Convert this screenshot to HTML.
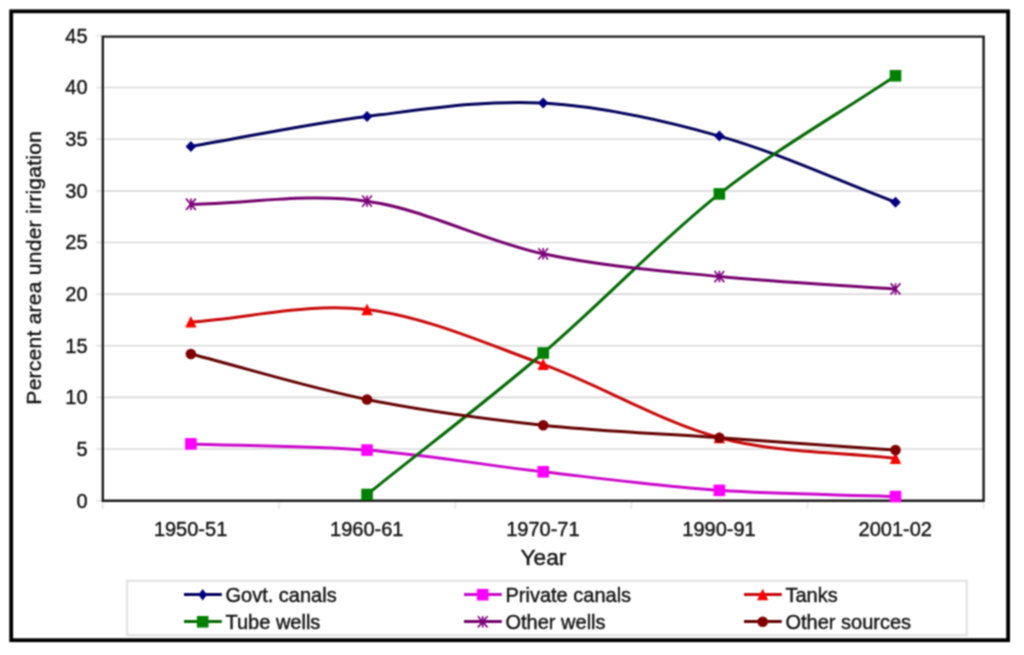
<!DOCTYPE html><html><head><meta charset="utf-8"><title>Sources of irrigation</title><style>html,body{margin:0;padding:0;background:#fff;overflow:hidden;}svg{display:block;}text{font-family:"Liberation Sans",sans-serif;fill:#141414;stroke:#141414;stroke-width:0.4px;}</style></head><body>
<svg width="1024" height="655" viewBox="0 0 1024 655">
<defs><filter id="soft" x="-2%" y="-2%" width="104%" height="104%" color-interpolation-filters="sRGB"><feConvolveMatrix order="3" kernelMatrix="1 2 1 2 4 2 1 2 1" divisor="16" edgeMode="duplicate" preserveAlpha="false"/></filter></defs>
<rect x="0" y="0" width="1024" height="655" fill="#fff"/>
<g filter="url(#soft)">
<rect x="11.2" y="11.3" width="996.9" height="628.9" fill="none" stroke="#000" stroke-width="3.8"/>
<line x1="102.80" y1="449.06" x2="983.60" y2="449.06" stroke="#d9d9d9" stroke-width="1.6"/>
<line x1="102.80" y1="397.41" x2="983.60" y2="397.41" stroke="#d9d9d9" stroke-width="1.6"/>
<line x1="102.80" y1="345.76" x2="983.60" y2="345.76" stroke="#d9d9d9" stroke-width="1.6"/>
<line x1="102.80" y1="294.12" x2="983.60" y2="294.12" stroke="#d9d9d9" stroke-width="1.6"/>
<line x1="102.80" y1="242.47" x2="983.60" y2="242.47" stroke="#d9d9d9" stroke-width="1.6"/>
<line x1="102.80" y1="190.83" x2="983.60" y2="190.83" stroke="#d9d9d9" stroke-width="1.6"/>
<line x1="102.80" y1="139.18" x2="983.60" y2="139.18" stroke="#d9d9d9" stroke-width="1.6"/>
<line x1="102.80" y1="87.54" x2="983.60" y2="87.54" stroke="#d9d9d9" stroke-width="1.6"/>
<line x1="96" y1="500.70" x2="102.80" y2="500.70" stroke="#e0e0e0" stroke-width="1.5"/>
<text x="87.6" y="507.60" font-size="20" text-anchor="end">0</text>
<line x1="96" y1="449.06" x2="102.80" y2="449.06" stroke="#e0e0e0" stroke-width="1.5"/>
<text x="87.6" y="455.95" font-size="20" text-anchor="end">5</text>
<line x1="96" y1="397.41" x2="102.80" y2="397.41" stroke="#e0e0e0" stroke-width="1.5"/>
<text x="87.6" y="404.31" font-size="20" text-anchor="end">10</text>
<line x1="96" y1="345.76" x2="102.80" y2="345.76" stroke="#e0e0e0" stroke-width="1.5"/>
<text x="87.6" y="352.66" font-size="20" text-anchor="end">15</text>
<line x1="96" y1="294.12" x2="102.80" y2="294.12" stroke="#e0e0e0" stroke-width="1.5"/>
<text x="87.6" y="301.02" font-size="20" text-anchor="end">20</text>
<line x1="96" y1="242.47" x2="102.80" y2="242.47" stroke="#e0e0e0" stroke-width="1.5"/>
<text x="87.6" y="249.37" font-size="20" text-anchor="end">25</text>
<line x1="96" y1="190.83" x2="102.80" y2="190.83" stroke="#e0e0e0" stroke-width="1.5"/>
<text x="87.6" y="197.73" font-size="20" text-anchor="end">30</text>
<line x1="96" y1="139.18" x2="102.80" y2="139.18" stroke="#e0e0e0" stroke-width="1.5"/>
<text x="87.6" y="146.08" font-size="20" text-anchor="end">35</text>
<line x1="96" y1="87.54" x2="102.80" y2="87.54" stroke="#e0e0e0" stroke-width="1.5"/>
<text x="87.6" y="94.44" font-size="20" text-anchor="end">40</text>
<line x1="96" y1="35.89" x2="102.80" y2="35.89" stroke="#e0e0e0" stroke-width="1.5"/>
<text x="87.6" y="42.79" font-size="20" text-anchor="end">45</text>
<line x1="102.80" y1="500.70" x2="102.80" y2="508.70" stroke="#e4e4e4" stroke-width="1.5"/>
<line x1="278.96" y1="500.70" x2="278.96" y2="508.70" stroke="#e4e4e4" stroke-width="1.5"/>
<line x1="455.12" y1="500.70" x2="455.12" y2="508.70" stroke="#e4e4e4" stroke-width="1.5"/>
<line x1="631.28" y1="500.70" x2="631.28" y2="508.70" stroke="#e4e4e4" stroke-width="1.5"/>
<line x1="807.44" y1="500.70" x2="807.44" y2="508.70" stroke="#e4e4e4" stroke-width="1.5"/>
<line x1="983.60" y1="500.70" x2="983.60" y2="508.70" stroke="#e4e4e4" stroke-width="1.5"/>
<text x="190.58" y="536" font-size="20" text-anchor="middle">1950-51</text>
<text x="366.74" y="536" font-size="20" text-anchor="middle">1960-61</text>
<text x="542.90" y="536" font-size="20" text-anchor="middle">1970-71</text>
<text x="719.06" y="536" font-size="20" text-anchor="middle">1990-91</text>
<text x="895.22" y="536" font-size="20" text-anchor="middle">2001-02</text>
<path d="M102.80,36.60 H983.60 V500.70 H102.80 Z" fill="none" stroke="#1c1c1c" stroke-width="2.4"/>
<text x="543.4" y="564.9" font-size="22.6" text-anchor="middle" textLength="45.8" lengthAdjust="spacingAndGlyphs">Year</text>
<text transform="translate(41.4,267.9) rotate(-90)" font-size="21" text-anchor="middle" textLength="273.5" lengthAdjust="spacing">Percent area under irrigation</text>
<path d="M190.88,146.42 C249.60,136.43 308.32,123.69 367.04,116.46 C425.76,109.23 484.48,99.76 543.20,103.03 C601.92,106.30 660.64,119.56 719.36,136.09 C778.08,152.61 836.80,180.16 895.52,202.19" fill="none" stroke="#05055c" stroke-width="3" stroke-linejoin="round" stroke-linecap="round"/>
<path d="M190.88,443.89 C249.60,445.96 308.32,445.44 367.04,450.09 C425.76,454.74 484.48,465.06 543.20,471.78 C601.92,478.49 660.64,486.24 719.36,490.37 C778.08,494.50 836.80,494.50 895.52,496.57" fill="none" stroke="#cc0acc" stroke-width="3" stroke-linejoin="round" stroke-linecap="round"/>
<path d="M190.88,322.01 C249.60,317.88 308.32,302.56 367.04,309.61 C425.76,316.67 484.48,343.01 543.20,364.36 C601.92,385.70 660.64,422.03 719.36,437.69 C778.08,453.36 836.80,451.47 895.52,458.35" fill="none" stroke="#c80c0c" stroke-width="3" stroke-linejoin="round" stroke-linecap="round"/>
<path d="M367.04,494.50 C425.76,447.33 484.48,403.09 543.20,353.00 C601.92,302.90 660.64,240.13 719.36,193.93 C778.08,147.72 836.80,115.15 895.52,75.76" fill="none" stroke="#056a05" stroke-width="3" stroke-linejoin="round" stroke-linecap="round"/>
<path d="M190.88,204.26 C249.60,203.22 308.32,192.90 367.04,201.16 C425.76,209.42 484.48,241.27 543.20,253.84 C601.92,266.40 660.64,270.71 719.36,276.56 C778.08,282.41 836.80,284.82 895.52,288.96" fill="none" stroke="#76046e" stroke-width="3" stroke-linejoin="round" stroke-linecap="round"/>
<path d="M190.88,354.03 C249.60,369.18 308.32,387.60 367.04,399.48 C425.76,411.35 484.48,418.93 543.20,425.30 C601.92,431.67 660.64,433.56 719.36,437.69 C778.08,441.82 836.80,445.96 895.52,450.09" fill="none" stroke="#660404" stroke-width="3" stroke-linejoin="round" stroke-linecap="round"/>
<path d="M190.88,140.92 L196.18,146.42 L190.88,151.92 L185.58,146.42 Z" fill="#000080"/>
<path d="M367.04,110.96 L372.34,116.46 L367.04,121.96 L361.74,116.46 Z" fill="#000080"/>
<path d="M543.20,97.53 L548.50,103.03 L543.20,108.53 L537.90,103.03 Z" fill="#000080"/>
<path d="M719.36,130.59 L724.66,136.09 L719.36,141.59 L714.06,136.09 Z" fill="#000080"/>
<path d="M895.52,196.69 L900.82,202.19 L895.52,207.69 L890.22,202.19 Z" fill="#000080"/>
<rect x="185.08" y="438.09" width="11.60" height="11.60" fill="#FF00FF"/>
<rect x="361.24" y="444.29" width="11.60" height="11.60" fill="#FF00FF"/>
<rect x="537.40" y="465.98" width="11.60" height="11.60" fill="#FF00FF"/>
<rect x="713.56" y="484.57" width="11.60" height="11.60" fill="#FF00FF"/>
<rect x="889.72" y="490.77" width="11.60" height="11.60" fill="#FF00FF"/>
<path d="M190.88,316.01 L196.58,327.61 L185.18,327.61 Z" fill="#FF0000"/>
<path d="M367.04,303.61 L372.74,315.21 L361.34,315.21 Z" fill="#FF0000"/>
<path d="M543.20,358.36 L548.90,369.96 L537.50,369.96 Z" fill="#FF0000"/>
<path d="M719.36,431.69 L725.06,443.29 L713.66,443.29 Z" fill="#FF0000"/>
<path d="M895.52,452.35 L901.22,463.95 L889.82,463.95 Z" fill="#FF0000"/>
<rect x="361.24" y="488.70" width="11.60" height="11.60" fill="#008000"/>
<rect x="537.40" y="347.20" width="11.60" height="11.60" fill="#008000"/>
<rect x="713.56" y="188.13" width="11.60" height="11.60" fill="#008000"/>
<rect x="889.72" y="69.96" width="11.60" height="11.60" fill="#008000"/>
<path d="M185.98,198.66 L195.78,209.86 M185.98,209.86 L195.78,198.66 M190.88,198.55 L190.88,209.97" stroke="#800080" stroke-width="1.7" fill="none"/>
<path d="M362.14,195.56 L371.94,206.76 M362.14,206.76 L371.94,195.56 M367.04,195.45 L367.04,206.87" stroke="#800080" stroke-width="1.7" fill="none"/>
<path d="M538.30,248.24 L548.10,259.44 M538.30,259.44 L548.10,248.24 M543.20,248.12 L543.20,259.55" stroke="#800080" stroke-width="1.7" fill="none"/>
<path d="M714.46,270.96 L724.26,282.16 M714.46,282.16 L724.26,270.96 M719.36,270.85 L719.36,282.27" stroke="#800080" stroke-width="1.7" fill="none"/>
<path d="M890.62,283.36 L900.42,294.56 M890.62,294.56 L900.42,283.36 M895.52,283.24 L895.52,294.67" stroke="#800080" stroke-width="1.7" fill="none"/>
<circle cx="190.88" cy="354.03" r="5.30" fill="#800000"/>
<circle cx="367.04" cy="399.48" r="5.30" fill="#800000"/>
<circle cx="543.20" cy="425.30" r="5.30" fill="#800000"/>
<circle cx="719.36" cy="437.69" r="5.30" fill="#800000"/>
<circle cx="895.52" cy="450.09" r="5.30" fill="#800000"/>
<rect x="127.1" y="580.8" width="839.7" height="54.4" fill="#fff" stroke="#e0e0e0" stroke-width="2"/>
<line x1="184.00" y1="594.50" x2="221.80" y2="594.50" stroke="#05055c" stroke-width="3"/>
<path d="M202.70,588.98 L207.05,594.70 L202.70,600.42 L198.35,594.70 Z" fill="#000080"/>
<text x="225.50" y="602.00" font-size="20">Govt. canals</text>
<line x1="464.00" y1="594.50" x2="501.80" y2="594.50" stroke="#cc0acc" stroke-width="3"/>
<rect x="476.90" y="588.90" width="11.60" height="11.60" fill="#FF00FF"/>
<text x="505.50" y="602.00" font-size="20">Private canals</text>
<line x1="744.00" y1="594.50" x2="781.80" y2="594.50" stroke="#c80c0c" stroke-width="3"/>
<path d="M762.70,588.70 L768.40,600.30 L757.00,600.30 Z" fill="#FF0000"/>
<text x="785.50" y="602.00" font-size="20">Tanks</text>
<line x1="184.00" y1="621.60" x2="221.80" y2="621.60" stroke="#056a05" stroke-width="3"/>
<rect x="196.90" y="616.00" width="11.60" height="11.60" fill="#008000"/>
<text x="225.50" y="629.10" font-size="20">Tube wells</text>
<line x1="464.00" y1="621.60" x2="501.80" y2="621.60" stroke="#76046e" stroke-width="3"/>
<path d="M477.80,616.20 L487.60,627.40 M477.80,627.40 L487.60,616.20 M482.70,616.09 L482.70,627.51" stroke="#800080" stroke-width="1.7" fill="none"/>
<text x="505.50" y="629.10" font-size="20">Other wells</text>
<line x1="744.00" y1="621.60" x2="781.80" y2="621.60" stroke="#660404" stroke-width="3"/>
<circle cx="762.70" cy="621.80" r="5.30" fill="#800000"/>
<text x="785.50" y="629.10" font-size="20">Other sources</text>
</g>
</svg></body></html>
